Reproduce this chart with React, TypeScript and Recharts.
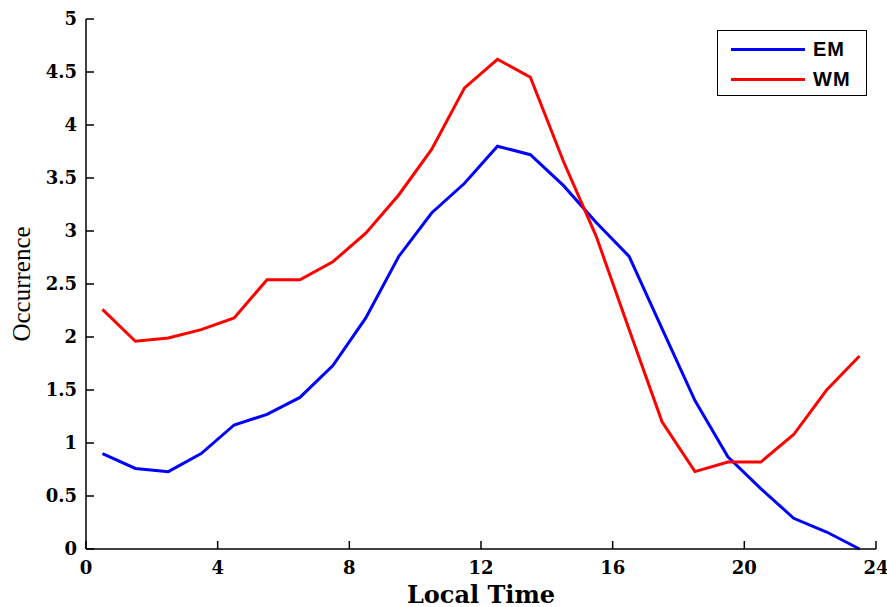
import React from 'react';
import { LineChart, Line, XAxis, YAxis, Legend } from 'recharts';

// hourly bins, centred on the half hour
const hours = [
  0.5, 1.5, 2.5, 3.5, 4.5, 5.5, 6.5, 7.5, 8.5, 9.5, 10.5, 11.5,
  12.5, 13.5, 14.5, 15.5, 16.5, 17.5, 18.5, 19.5, 20.5, 21.5, 22.5, 23.5,
];
const emValues = [
  0.9, 0.76, 0.73, 0.9, 1.17, 1.27, 1.43, 1.73, 2.18, 2.76, 3.17, 3.45,
  3.8, 3.72, 3.43, 3.08, 2.76, 2.08, 1.4, 0.87, 0.57, 0.29, 0.16, 0.0,
];
const wmValues = [
  2.26, 1.96, 1.99, 2.07, 2.18, 2.54, 2.54, 2.71, 2.98, 3.34, 3.77, 4.35,
  4.62, 4.45, 3.66, 2.95, 2.07, 1.2, 0.73, 0.82, 0.82, 1.08, 1.5, 1.82,
];
const xTicks = [0, 4, 8, 12, 16, 20, 24];
const yTicks = [0, 0.5, 1, 1.5, 2, 2.5, 3, 3.5, 4, 4.5, 5];

const data = hours.map((hour, i) => ({ hour, EM: emValues[i], WM: wmValues[i] }));

const TICK_LEN = 8;
const X_GAP = 12;
const Y_GAP = 9;
const tickText = {
  fontFamily: '"DejaVu Serif", serif',
  fontWeight: 'bold' as const,
  fontSize: 18,
  fill: '#000',
};

// matlab-style ticks: short marks pointing into the plot box
const BottomTick = ({ x, y, payload }: any) => {
  const axisY = y - X_GAP;
  return (
    <g>
      <line x1={x} y1={axisY} x2={x} y2={axisY - TICK_LEN} stroke="#000" strokeWidth={1.5} />
      <text x={x} y={y} dy="0.71em" textAnchor="middle" {...tickText}>
        {payload.value}
      </text>
    </g>
  );
};

const LeftTick = ({ x, y, payload }: any) => {
  const axisX = x + Y_GAP;
  return (
    <g>
      <line x1={axisX} y1={y} x2={axisX + TICK_LEN} y2={y} stroke="#000" strokeWidth={1.5} />
      <text x={x} y={y} dy="0.36em" textAnchor="end" {...tickText}>
        {payload.value}
      </text>
    </g>
  );
};

const TopTick = ({ x, y }: any) => (
  <line x1={x} y1={y} x2={x} y2={y + TICK_LEN} stroke="#000" strokeWidth={1.5} />
);

const RightTick = ({ x, y }: any) => (
  <line x1={x} y1={y} x2={x - TICK_LEN} y2={y} stroke="#000" strokeWidth={1.5} />
);

const renderLegend = (props: any) => {
  const items = props.payload || [];
  return (
    <div
      style={{
        width: 150,
        height: 66,
        boxSizing: 'border-box',
        border: '1.5px solid #000',
        background: '#fff',
        padding: '3px 0 0 13px',
      }}
    >
      {items.map((entry: any) => (
        <div key={entry.value} style={{ display: 'flex', alignItems: 'center', height: 30 }}>
          <span style={{ display: 'inline-block', width: 74, height: 3, background: entry.color }} />
          <span
            style={{
              marginLeft: 8,
              fontFamily: '"Liberation Sans", Arial, sans-serif',
              fontWeight: 'bold',
              fontSize: 20,
              letterSpacing: 1,
              color: '#000',
            }}
          >
            {entry.value}
          </span>
        </div>
      ))}
    </div>
  );
};

export default function App() {
  return (
    <div style={{ position: 'absolute', left: 0, top: 0, width: 887, height: 607, background: '#fff' }}>
      <LineChart
        width={887}
        height={607}
        data={data}
        margin={{ top: 19, right: 11, left: 0, bottom: 0 }}
      >
        <XAxis
          xAxisId="bottom"
          dataKey="hour"
          type="number"
          domain={[0, 24]}
          ticks={xTicks}
          height={58}
          stroke="#000"
          strokeWidth={1.5}
          tickLine={false}
          tickSize={0}
          tickMargin={X_GAP}
          tick={BottomTick}
          label={{
            value: 'Local Time',
            position: 'insideBottom',
            offset: 4,
            style: { fontFamily: '"DejaVu Serif", serif', fontWeight: 'bold', fontSize: 24, fill: '#000' },
          }}
        />
        <XAxis
          xAxisId="top"
          orientation="top"
          dataKey="hour"
          type="number"
          domain={[0, 24]}
          ticks={xTicks}
          height={0}
          stroke="#000"
          strokeWidth={1.5}
          tickLine={false}
          tickSize={0}
          tickMargin={0}
          tick={TopTick}
        />
        <YAxis
          yAxisId="left"
          type="number"
          domain={[0, 5]}
          ticks={yTicks}
          width={86}
          stroke="#000"
          strokeWidth={1.5}
          tickLine={false}
          tickSize={0}
          tickMargin={Y_GAP}
          tick={LeftTick}
          label={{
            value: 'Occurrence',
            angle: -90,
            position: 'insideLeft',
            offset: 21,
            style: {
              textAnchor: 'middle',
              fontFamily: '"Liberation Serif", serif',
              fontSize: 25,
              fill: '#000',
            },
          }}
        />
        <YAxis
          yAxisId="right"
          orientation="right"
          type="number"
          domain={[0, 5]}
          ticks={yTicks}
          width={0}
          stroke="#000"
          strokeWidth={1.5}
          tickLine={false}
          tickSize={0}
          tickMargin={0}
          tick={RightTick}
        />
        <Legend
          layout="vertical"
          align="center"
          verticalAlign="middle"
          content={renderLegend}
          wrapperStyle={{ left: 717, top: 30, right: 'auto', bottom: 'auto', width: 150 }}
        />
        <Line
          xAxisId="bottom"
          yAxisId="left"
          type="linear"
          dataKey="EM"
          name="EM"
          stroke="#0000ff"
          strokeWidth={3}
          dot={false}
          isAnimationActive={false}
        />
        <Line
          xAxisId="bottom"
          yAxisId="left"
          type="linear"
          dataKey="WM"
          name="WM"
          stroke="#ff0000"
          strokeWidth={3}
          dot={false}
          isAnimationActive={false}
        />
      </LineChart>
    </div>
  );
}
